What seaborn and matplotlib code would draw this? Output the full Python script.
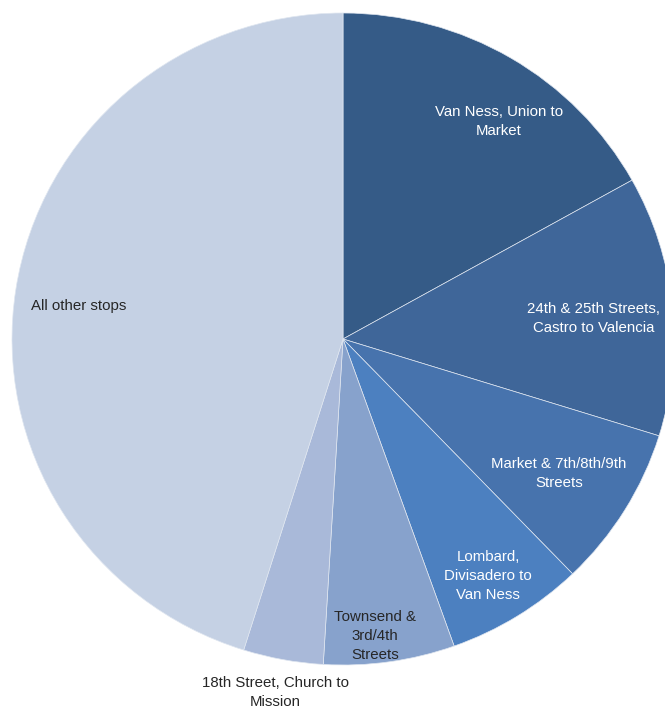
import matplotlib
matplotlib.use("Agg")
import matplotlib.pyplot as plt
from matplotlib import font_manager
import seaborn as sns

# ====== DATA ======
stops = [
    "Van Ness, Union to\nMarket",
    "24th & 25th Streets,\nCastro to Valencia",
    "Market & 7th/8th/9th\nStreets",
    "Lombard,\nDivisadero to\nVan Ness",
    "Townsend &\n3rd/4th\nStreets",
    "18th Street, Church to\nMission",
    "All other stops",
]
shares = [16.9, 12.9, 8.0, 6.75, 6.4, 3.9, 45.15]
colors = ["#355b87", "#3f6699", "#4773ad", "#4c80c0", "#87a2cc", "#a9b9d9", "#c5d1e4"]
text_colors = ["white", "white", "white", "white", "#262626", "#262626", "#262626"]

sns.set_theme(style="white")

# narrow font if there is one, else plain Arial-like
names = {f.name for f in font_manager.fontManager.ttflist}
if "Liberation Sans Narrow" in names:
    fam, size = "Liberation Sans Narrow", 12.3
else:
    fam, size = "Liberation Sans", 10.8
plt.rcParams["font.family"] = [fam, "DejaVu Sans"]

fig = plt.figure(figsize=(6.65, 7.1), dpi=100)
ax = fig.add_axes([0, 0, 1, 1])

wedges, _ = ax.pie(
    shares,
    colors=colors,
    startangle=90,
    counterclock=False,
    radius=1.0,
    wedgeprops=dict(edgecolor="#dfe6f0", linewidth=0.5),
)

# label positions (data coords, pie radius = 1)
label_pos = [
    (0.471, 0.666),
    (0.758, 0.064),
    (0.653, -0.414),
    (0.438, -0.727),
    (0.097, -0.911),
    (-0.205, -1.083),
    (-0.80, 0.101),
]
for lab, (x, y), tc in zip(stops, label_pos, text_colors):
    ax.text(x, y, lab, ha="center", va="center", color=tc,
            fontsize=size, linespacing=1.45)

ax.set_aspect("auto")
ax.set_xlim(-343 / 331, (665 - 343) / 331)
ax.set_ylim(-(710 - 339) / 326, 339 / 326)
ax.axis("off")

fig.savefig("out.png", dpi=100, facecolor="white")
